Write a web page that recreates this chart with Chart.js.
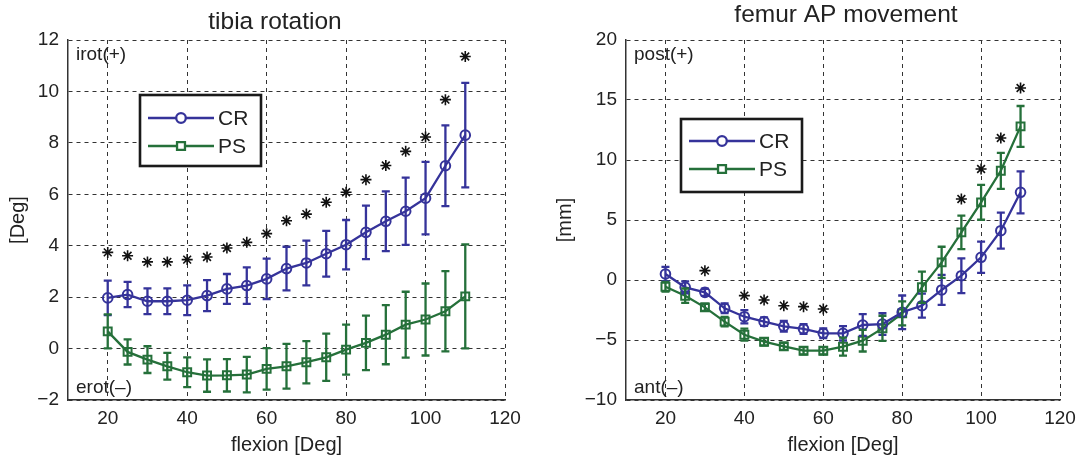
<!DOCTYPE html>
<html>
<head>
<meta charset="utf-8">
<script src="https://cdn.jsdelivr.net/npm/chart.js@4.4.1/dist/chart.umd.min.js"></script>
<style>
  html, body { margin: 0; padding: 0; background: #fff; }
  #wrap { position: relative; width: 1087px; height: 464px; }
  canvas { position: absolute; top: 0; }
  #c1 { left: 0; }
  #c2 { left: 540px; }
</style>
</head>
<body>
<div id="wrap">
  <canvas id="c1" width="540" height="464"></canvas>
  <canvas id="c2" width="547" height="464"></canvas>
</div>
<script>
// Flexion angles (deg) at which both implants were measured
const flexion = [20, 25, 30, 35, 40, 45, 50, 55, 60, 65, 70, 75, 80, 85, 90, 95, 100, 105, 110];
const xTicks = [20, 40, 60, 80, 100, 120];

// Tibia rotation (deg): mean and standard deviation
const tibiaCR    = [1.97, 2.10, 1.84, 1.84, 1.88, 2.06, 2.32, 2.45, 2.71, 3.11, 3.33, 3.69, 4.04, 4.52, 4.95, 5.34, 5.85, 7.11, 8.30];
const tibiaCRsd  = [0.67, 0.49, 0.50, 0.50, 0.58, 0.60, 0.58, 0.71, 0.79, 0.85, 0.87, 0.89, 0.96, 1.04, 1.16, 1.31, 1.41, 1.57, 2.03];
const tibiaPS    = [0.67, -0.13, -0.43, -0.69, -0.92, -1.05, -1.04, -1.01, -0.79, -0.69, -0.53, -0.34, -0.04, 0.22, 0.54, 0.93, 1.13, 1.45, 2.03];
const tibiaPSsd  = [0.66, 0.49, 0.52, 0.52, 0.58, 0.63, 0.63, 0.69, 0.81, 0.87, 0.82, 0.92, 0.97, 1.06, 1.15, 1.28, 1.40, 1.56, 2.02];
// Significance markers for tibia rotation
const tibiaSigX  = [20, 25, 30, 35, 40, 45, 50, 55, 60, 65, 70, 75, 80, 85, 90, 95, 100, 105, 110];
const tibiaSigY  = [3.74, 3.61, 3.37, 3.37, 3.46, 3.56, 3.91, 4.13, 4.47, 4.97, 5.23, 5.69, 6.08, 6.57, 7.12, 7.67, 8.23, 9.68, 11.36];

// Femur AP movement (mm): mean and standard deviation
const femurCR    = [0.50, -0.61, -1.03, -2.36, -3.06, -3.47, -3.86, -4.08, -4.44, -4.44, -3.75, -3.67, -2.69, -2.14, -0.83, 0.36, 1.89, 4.11, 7.31];
const femurCRsd  = [0.60, 0.50, 0.30, 0.40, 0.55, 0.35, 0.45, 0.40, 0.40, 0.60, 0.90, 0.90, 1.40, 1.00, 1.25, 1.45, 1.30, 1.50, 1.75];
const femurPS    = [-0.56, -1.31, -2.28, -3.47, -4.56, -5.14, -5.53, -5.89, -5.89, -5.56, -5.06, -4.03, -2.78, -0.61, 1.47, 3.97, 6.47, 9.10, 12.80];
const femurPSsd  = [0.40, 0.60, 0.30, 0.40, 0.50, 0.30, 0.30, 0.30, 0.30, 0.75, 0.90, 1.05, 1.00, 1.30, 1.30, 1.40, 1.45, 1.50, 1.70];
// Significance markers for femur AP movement
const femurSigX  = [30, 40, 45, 50, 55, 60, 95, 100, 105, 110];
const femurSigY  = [0.78, -1.30, -1.67, -2.14, -2.22, -2.42, 6.75, 9.25, 11.83, 16.00];

const CR_COLOR = '#35339a';
const PS_COLOR = '#25703a';
const FONT = '"Liberation Sans", Arial, Helvetica, sans-serif';
const TEXT = '#222';

// Vertical error bars with caps, drawn from each series' mean and sd
const errBars = {
  id: 'errBars',
  afterDatasetsDraw(chart, args, opts) {
    const { ctx, scales: { x, y } } = chart;
    ctx.save();
    ctx.lineCap = 'butt';
    opts.sets.forEach(s => {
      ctx.strokeStyle = s.color;
      ctx.lineWidth = 2.3;
      s.values.forEach((v, i) => {
        const px = x.getPixelForValue(flexion[i]);
        const top = y.getPixelForValue(v + s.sd[i]);
        const bot = y.getPixelForValue(v - s.sd[i]);
        ctx.beginPath();
        ctx.moveTo(px, top); ctx.lineTo(px, bot);
        ctx.moveTo(px - 4, top); ctx.lineTo(px + 4, top);
        ctx.moveTo(px - 4, bot); ctx.lineTo(px + 4, bot);
        ctx.stroke();
      });
    });
    ctx.restore();
  }
};

// Panel heading above the plot area
const panelTitle = {
  id: 'panelTitle',
  afterDraw(chart, args, o) {
    const ctx = chart.ctx;
    ctx.save();
    ctx.fillStyle = TEXT;
    ctx.font = '24.5px ' + FONT;
    ctx.textAlign = 'center';
    ctx.textBaseline = 'alphabetic';
    ctx.fillText(o.text, o.cx, o.baseline);
    ctx.restore();
  }
};

// Boxed legend placed inside the plot area
const boxLegend = {
  id: 'boxLegend',
  afterDraw(chart, args, o) {
    const ctx = chart.ctx;
    ctx.save();
    ctx.fillStyle = '#fff';
    ctx.fillRect(o.x, o.y, o.w, o.h);
    ctx.lineWidth = 2.6;
    ctx.strokeStyle = '#1a1a1a';
    ctx.strokeRect(o.x, o.y, o.w, o.h);
    chart.data.datasets.filter(d => d.inLegend).forEach((d, i) => {
      const yy = o.y + o.rows[i];
      ctx.strokeStyle = d.borderColor;
      ctx.lineWidth = 2.3;
      ctx.beginPath();
      ctx.moveTo(o.x + 8, yy); ctx.lineTo(o.x + 74, yy);
      ctx.stroke();
      ctx.fillStyle = '#fff';
      Chart.helpers.drawPoint(ctx, { pointStyle: d.pointStyle, radius: d.pointRadius, borderWidth: 2, rotation: 0 }, o.x + 41, yy);
      ctx.fillStyle = TEXT;
      ctx.font = '21px ' + FONT;
      ctx.textBaseline = 'middle';
      ctx.textAlign = 'left';
      ctx.fillText(d.label, o.x + 78, yy + 1);
    });
    ctx.restore();
  }
};

// Direction labels in the plot corners
const cornerText = {
  id: 'cornerText',
  beforeDatasetsDraw(chart, args, o) {
    const { ctx, chartArea: a } = chart;
    ctx.save();
    ctx.fillStyle = TEXT;
    ctx.font = '19px ' + FONT;
    ctx.textAlign = 'left';
    ctx.textBaseline = 'middle';
    ctx.fillText(o.top, a.left + 8, a.top + 15);
    ctx.fillText(o.bottom, a.left + 8, a.bottom - 12);
    ctx.restore();
  }
};

function minusFmt(v) { return String(v).replace('-', '\u2212'); }

function makeChart(id, cfg) {
  return new Chart(document.getElementById(id), {
    type: 'line',
    data: {
      datasets: [
        { label: 'CR', inLegend: true, data: flexion.map((f, i) => ({ x: f, y: cfg.cr[i] })),
          borderColor: CR_COLOR, backgroundColor: 'rgba(0,0,0,0)', borderWidth: 2.3,
          pointStyle: 'circle', pointRadius: 4.8, pointBorderWidth: 2, pointBackgroundColor: 'rgba(0,0,0,0)', tension: 0 },
        { label: 'PS', inLegend: true, data: flexion.map((f, i) => ({ x: f, y: cfg.ps[i] })),
          borderColor: PS_COLOR, backgroundColor: 'rgba(0,0,0,0)', borderWidth: 2.3,
          pointStyle: 'rect', pointRadius: 5.6, pointBorderWidth: 2, pointBackgroundColor: 'rgba(0,0,0,0)', tension: 0 },
        { label: 'p<0.05', inLegend: false, data: cfg.sigX.map((f, i) => ({ x: f, y: cfg.sigY[i] })),
          showLine: false, borderColor: '#111', backgroundColor: '#111',
          pointStyle: 'star', pointRadius: 5.5, pointBorderWidth: 1.6 }
      ]
    },
    options: {
      responsive: false,
      animation: false,
      events: [],
      layout: { padding: { left: 0, right: cfg.padRight, top: 40, bottom: 0 } },
      scales: {
        x: {
          type: 'linear', min: 10, max: 120,
          afterBuildTicks: s => { s.ticks = xTicks.map(v => ({ value: v })); },
          afterFit: s => { s.height = 64; },
          grid: { color: '#333', lineWidth: 1, drawTicks: false },
          border: { display: true, color: '#333', width: 1.5, dash: [4, 4] },
          ticks: { color: TEXT, font: { family: FONT, size: 19 }, padding: 7, maxRotation: 0, autoSkip: false },
          title: { display: true, text: 'flexion [Deg]', color: TEXT, font: { family: FONT, size: 20 }, padding: { top: 0, bottom: 7 } }
        },
        y: {
          type: 'linear', min: cfg.yMin, max: cfg.yMax,
          ticks: { stepSize: cfg.yStep, color: TEXT, font: { family: FONT, size: 19 }, padding: 9, callback: minusFmt },
          afterFit: s => { s.width = cfg.yWidth; },
          grid: { color: '#333', lineWidth: 1, drawTicks: false },
          border: { display: true, color: '#333', width: 1.5, dash: [4, 4] },
          title: { display: true, text: cfg.yTitle, color: TEXT, font: { family: FONT, size: 20 }, padding: { top: cfg.yTitlePad, bottom: 0 } }
        }
      },
      plugins: {
        legend: { display: false },
        tooltip: { enabled: false },
        title: { display: false },
        panelTitle: cfg.heading,
        errBars: { sets: [ { values: cfg.cr, sd: cfg.crSd, color: CR_COLOR }, { values: cfg.ps, sd: cfg.psSd, color: PS_COLOR } ] },
        boxLegend: cfg.legend,
        cornerText: cfg.corner
      }
    },
    plugins: [errBars, boxLegend, cornerText, panelTitle]
  });
}

makeChart('c1', {
  heading: { text: 'tibia rotation', cx: 275, baseline: 29 },
  cr: tibiaCR, crSd: tibiaCRsd, ps: tibiaPS, psSd: tibiaPSsd,
  sigX: tibiaSigX, sigY: tibiaSigY,
  yMin: -2, yMax: 12, yStep: 2, yTitle: '[Deg]', yTitlePad: 6, yWidth: 68, padRight: 35,
  legend: { x: 140, y: 95, w: 121, h: 71, rows: [23, 51] },
  corner: { top: 'irot(+)', bottom: 'erot(\u2013)' }
});

makeChart('c2', {
  heading: { text: 'femur AP movement', cx: 306, baseline: 22 },
  cr: femurCR, crSd: femurCRsd, ps: femurPS, psSd: femurPSsd,
  sigX: femurSigX, sigY: femurSigY,
  yMin: -10, yMax: 20, yStep: 5, yTitle: '[mm]', yTitlePad: 13, yWidth: 86, padRight: 27,
  legend: { x: 141, y: 119, w: 121, h: 73, rows: [22, 50] },
  corner: { top: 'post(+)', bottom: 'ant(\u2013)' }
});
</script>
</body>
</html>
